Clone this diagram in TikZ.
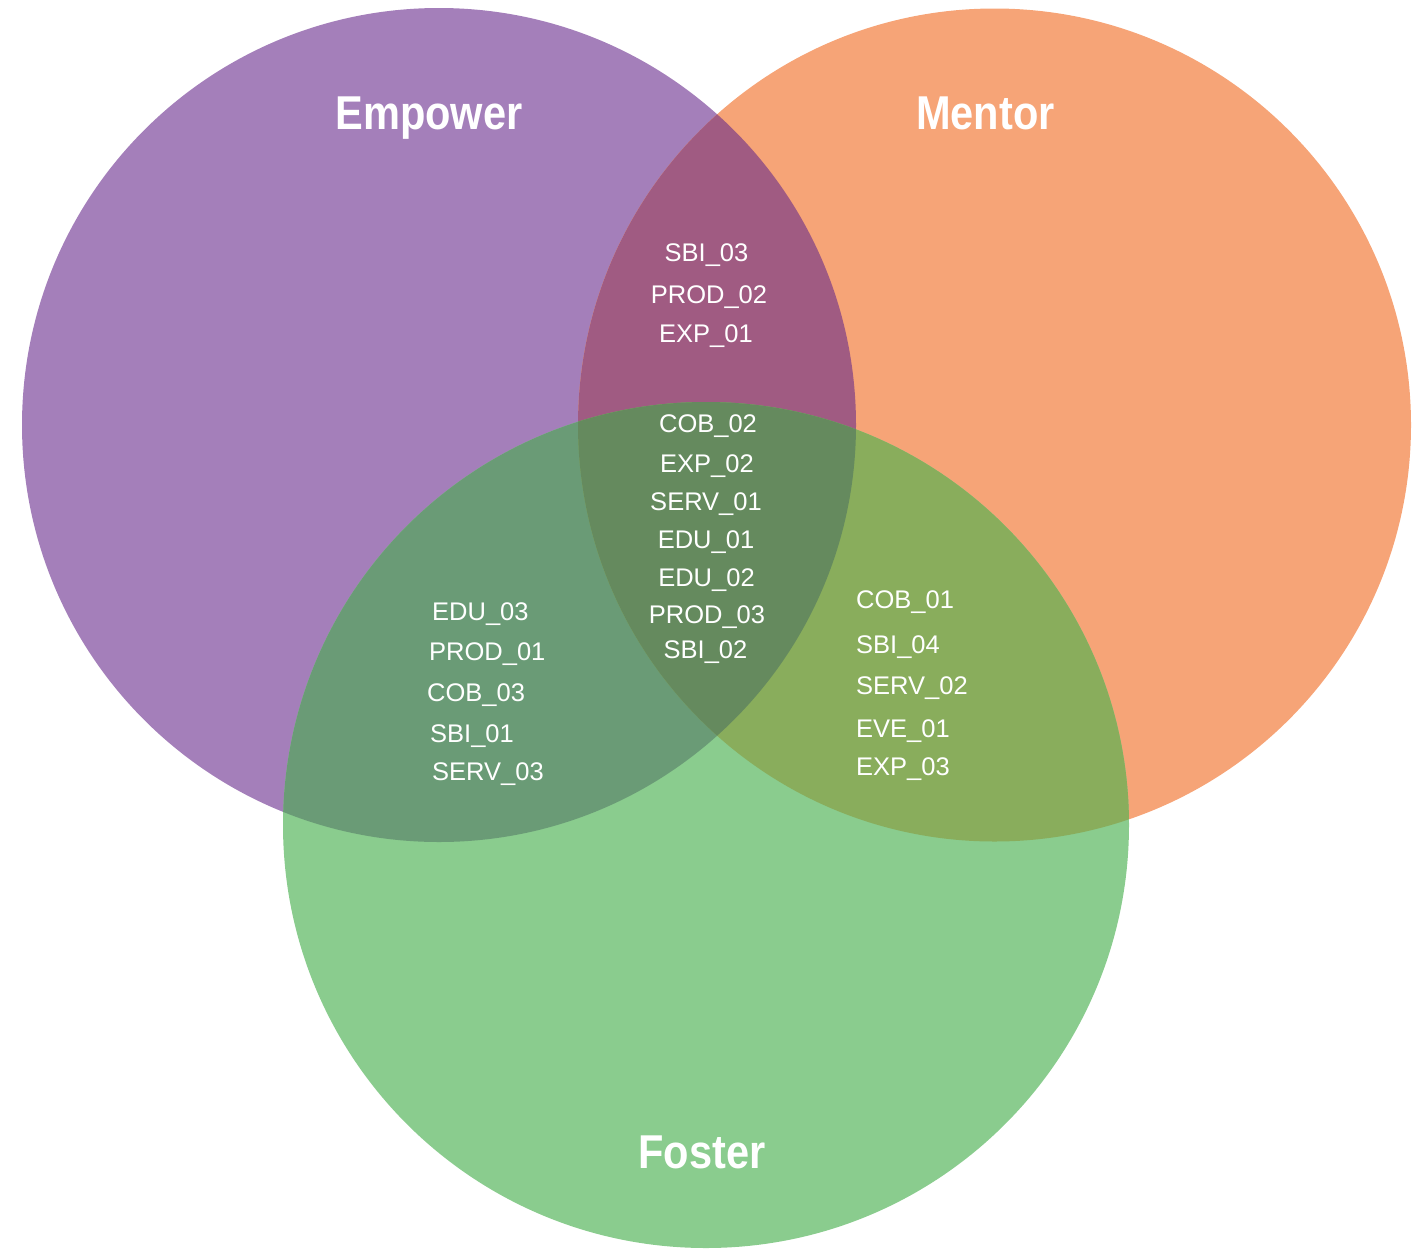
\documentclass[tikz,border=0pt]{standalone}
\usepackage{fontspec}
\setmainfont{Liberation Sans}
\newfontfamily\titlefont{Liberation Sans}[FakeStretch=0.875]
\definecolor{cP}{HTML}{A47FBA}
\definecolor{cO}{HTML}{F6A477}
\definecolor{cG}{HTML}{8ACC8E}
\definecolor{cPO}{HTML}{A05B82}
\definecolor{cPG}{HTML}{6A9B76}
\definecolor{cOG}{HTML}{89AD5C}
\definecolor{cPOG}{HTML}{658A5E}
\begin{document}
\begin{tikzpicture}[x=1pt,y=-1pt,
  ttl/.style={text=white,inner sep=0pt,anchor=base,font=\titlefont\bfseries\fontsize{47.5}{50}\selectfont},
  itm/.style={text=white,inner sep=0pt,anchor=base,font=\fontsize{25.5}{28}\selectfont},
  itml/.style={itm,anchor=base west}]
\useasboundingbox (0,0) rectangle (1421,1248);
\def\Pc{(439,425) circle[radius=417pt]}
\def\Oc{(994.5,425) circle[radius=416.5pt]}
\def\Gc{(706,825) circle[radius=423pt]}
\fill[cP] \Pc;
\fill[cO] \Oc;
\fill[cG] \Gc;
\begin{scope}\clip \Pc; \fill[cPO] \Oc; \end{scope}
\begin{scope}\clip \Pc; \fill[cPG] \Gc; \end{scope}
\begin{scope}\clip \Oc; \fill[cOG] \Gc; \end{scope}
\begin{scope}\clip \Pc; \clip \Oc; \fill[cPOG] \Gc; \end{scope}
% titles
\node[ttl] (emp) at (429,129) {Empower};
\node[ttl] (men) at (985.5,129) {Mentor};
\node[ttl] (fos) at (702,1168) {Foster};
% Empower & Mentor
\node[itm] (a1) at (706.5,261) {SBI\_03};
\node[itm] (a2) at (709,303) {PROD\_02};
\node[itm] (a3) at (706,342) {EXP\_01};
% all three
\node[itm] (c1) at (708,432) {COB\_02};
\node[itm] (c2) at (707,472) {EXP\_02};
\node[itm] (c3) at (706,510) {SERV\_01};
\node[itm] (c4) at (706,548) {EDU\_01};
\node[itm] (c5) at (706.5,586) {EDU\_02};
\node[itm] (c6) at (707,623) {PROD\_03};
\node[itm] (c7) at (705.5,658) {SBI\_02};
% Empower & Foster
\node[itml] (l1) at (432,620) {EDU\_03};
\node[itml] (l2) at (429,660) {PROD\_01};
\node[itml] (l3) at (427,701) {COB\_03};
\node[itml] (l4) at (430,742) {SBI\_01};
\node[itml] (l5) at (432,780) {SERV\_03};
% Mentor & Foster
\node[itml] (r1) at (856,608) {COB\_01};
\node[itml] (r2) at (856,653) {SBI\_04};
\node[itml] (r3) at (856,694) {SERV\_02};
\node[itml] (r4) at (856,737) {EVE\_01};
\node[itml] (r5) at (856,775) {EXP\_03};
\end{tikzpicture}
\end{document}
